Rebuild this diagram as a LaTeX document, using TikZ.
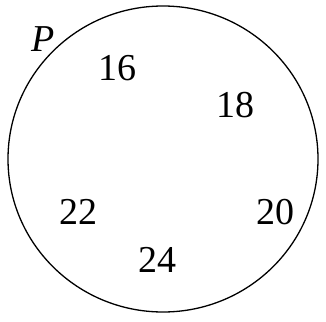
\documentclass[tikz,border=0pt]{standalone}
\usepackage{fontspec}
\setmainfont{Liberation Serif}
\usetikzlibrary{shapes.geometric}
\begin{document}
\begin{tikzpicture}[x=1pt,y=-1pt,
  num/.style={font=\fontsize{38}{40}\selectfont, inner sep=0pt},
  setline/.style={line width=1.3pt}]
\useasboundingbox (0,0) rectangle (326,321);
\node[setline, draw, ellipse, minimum width=310pt, minimum height=306pt, inner sep=0pt] (circ) at (163,159) {};
\node[num, font=\fontsize{38}{40}\selectfont\itshape] (p) at (43,39) {P};
\node[num] (n16) at (117,68) {16};
\node[num] (n18) at (235,105) {18};
\node[num] (n22) at (78,212) {22};
\node[num] (n20) at (275,212) {20};
\node[num] (n24) at (157,260) {24};
\end{tikzpicture}
\end{document}
